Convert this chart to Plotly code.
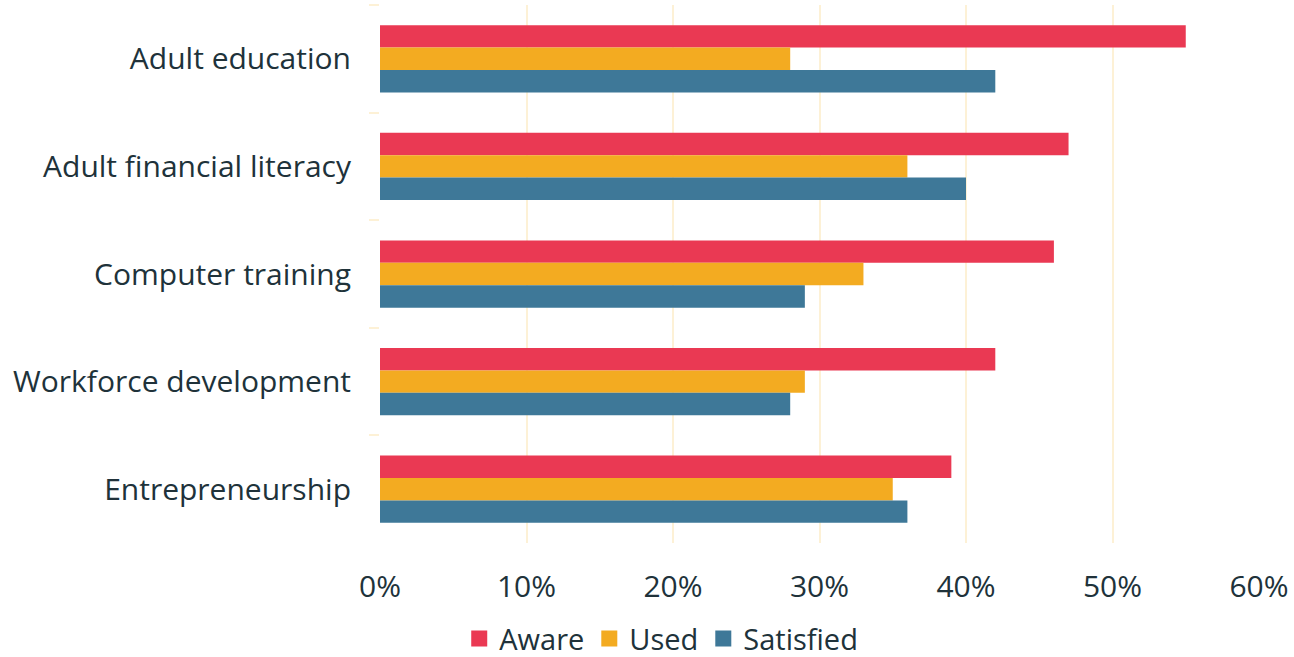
import plotly.graph_objects as go

categories = ["Adult education", "Adult financial literacy", "Computer training",
              "Workforce development", "Entrepreneurship"]
aware = [55, 47, 46, 42, 39]
used = [28, 36, 33, 29, 35]
satisfied = [42, 40, 29, 28, 36]
series_names = ["Aware", "Used", "Satisfied"]
colors = ["#EA3953", "#F3AB21", "#3E7898"]
tick_vals = [0, 10, 20, 30, 40, 50, 60]
tick_text = ["0%", "10%", "20%", "30%", "40%", "50%", "60%"]

FONT = "'Open Sans', Inter, sans-serif"
TXT = "#20323A"
GRID = "#FDF1D6"

fig = go.Figure()
for name, vals, col in zip(series_names, [aware, used, satisfied], colors):
    fig.add_trace(go.Bar(y=categories, x=vals, name=name, orientation="h",
                         marker=dict(color=col, line=dict(width=0)),
                         showlegend=False))
# legend entries with larger square swatches
for name, col in zip(series_names, colors):
    fig.add_trace(go.Scatter(x=[None], y=[None], mode="markers", name=name,
                             marker=dict(symbol="square", size=17, color=col),
                             showlegend=True, hoverinfo="skip"))

fig.update_layout(
    width=1294, height=657,
    barmode="group", bargap=0.375, bargroupgap=0,
    plot_bgcolor="white", paper_bgcolor="white",
    margin=dict(l=380, r=32, t=5, b=114),
    font=dict(family=FONT, color=TXT, size=30),
    xaxis=dict(range=[0, 60], tickvals=tick_vals, ticktext=tick_text,
               showgrid=True, gridcolor=GRID, gridwidth=2, zeroline=False,
               showline=False, ticks="", ticklabelstandoff=23,
               tickfont=dict(size=30, color=TXT)),
    yaxis=dict(autorange="reversed", tickson="boundaries", ticks="outside",
               ticklen=10, tickwidth=2, tickcolor=GRID, showgrid=False,
               showline=False, zeroline=False, ticklabelstandoff=28,
               tickfont=dict(size=30, color=TXT)),
    legend=dict(orientation="h", xref="container", yref="container",
                x=0.511, xanchor="center", y=0.028, yanchor="middle",
                font=dict(size=29, color=TXT), itemwidth=30,
                traceorder="normal"),
    showlegend=True,
)

fig.write_html("out.html", config={"displayModeBar": False},
               post_script="document.body.style.margin='0';")
